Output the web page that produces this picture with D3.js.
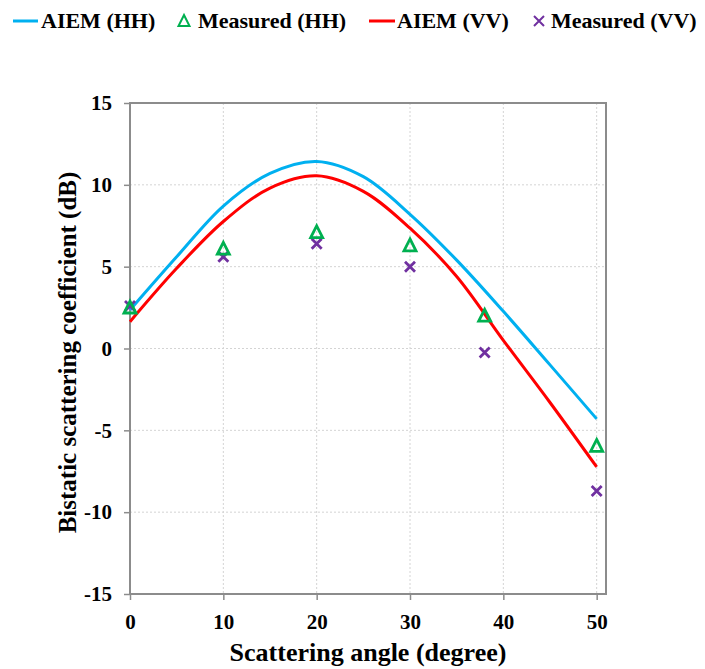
<!DOCTYPE html>
<html>
<head>
<meta charset="utf-8">
<script src="https://cdn.jsdelivr.net/npm/d3@7"></script>
<style>
  body { margin: 0; background: #fff; }
  svg text { font-family: "Liberation Serif", "Times New Roman", "DejaVu Serif", serif !important; font-weight: bold; fill: #000; }
</style>
</head>
<body>
<svg id="chart" width="705" height="669"></svg>
<script>
// ---- data ----
const modelAngles = [0, 5, 10, 15, 20, 25, 30, 35, 40, 45, 50];
const aiemHH = [2.35, 5.6, 8.7, 10.7, 11.43, 10.5, 8.2, 5.4, 2.27, -1.0, -4.3];
const aiemVV = [1.64, 4.9, 7.76, 9.8, 10.55, 9.6, 7.35, 4.4, 0.5, -3.3, -7.24];
const measAngles = [0, 10, 20, 30, 38, 50];
const measHH = [2.5, 6.1, 7.1, 6.3, 2.0, -5.95];
const measVV = [2.6, 5.6, 6.4, 5.0, -0.25, -8.7];
const xTicks = [0, 10, 20, 30, 40, 50];
const yTicks = [-15, -10, -5, 0, 5, 10, 15];
const xTitle = "Scattering angle (degree)";
const yTitle = "Bistatic scattering coefficient (dB)";
const legendLabels = ["AIEM (HH)", "Measured (HH)", "AIEM (VV)", "Measured (VV)"];

// ---- layout ----
const FONT = '"Liberation Serif", "Times New Roman", serif';
const svg = d3.select("#chart");
const L = 130, R = 606, T = 103, B = 594;
const colors = { hh: "#00B0F0", vv: "#FF0000", mhh: "#00B050", mvv: "#7030A0" };

const x = d3.scaleLinear().domain([0, 51]).range([L, R]);
const y = d3.scaleLinear().domain([-15, 15]).range([B, T]);
const fmt = d => String(d); // plain hyphen minus like the reference

// gridlines
const grid = svg.append("g");
grid.selectAll("line.h").data(yTicks.filter(v => v > -15 && v < 15)).enter().append("line")
  .attr("x1", L).attr("x2", R).attr("y1", d => y(d)).attr("y2", d => y(d))
  .attr("stroke", "#d4d4d4").attr("stroke-width", 1).attr("stroke-dasharray", "2,2");
grid.selectAll("line.v").data(xTicks.filter(v => v > 0)).enter().append("line")
  .attr("y1", T).attr("y2", B).attr("x1", d => x(d)).attr("x2", d => x(d))
  .attr("stroke", "#d4d4d4").attr("stroke-width", 1).attr("stroke-dasharray", "2,2");

// border box
svg.append("rect").attr("x", L).attr("y", T).attr("width", R - L).attr("height", B - T)
  .attr("fill", "none").attr("stroke", "#8c8c8c").attr("stroke-width", 2);

// axes
const xAxis = svg.append("g").attr("transform", `translate(0,${B})`)
  .call(d3.axisBottom(x).tickValues(xTicks).tickSize(6).tickPadding(14).tickFormat(fmt));
xAxis.attr("font-family", FONT).attr("font-size", 21);
xAxis.select(".domain").remove();
xAxis.selectAll(".tick line").attr("stroke", "#8c8c8c").attr("stroke-width", 1.5);
xAxis.selectAll(".tick text").style("font-size", "21px").style("font-family", FONT);

const yAxis = svg.append("g").attr("transform", `translate(${L},0)`)
  .call(d3.axisLeft(y).tickValues(yTicks).tickSize(6).tickPadding(12).tickFormat(fmt));
yAxis.attr("font-family", FONT).attr("font-size", 21);
yAxis.select(".domain").remove();
yAxis.selectAll(".tick line").attr("stroke", "#8c8c8c").attr("stroke-width", 1.5);
yAxis.selectAll(".tick text").style("font-size", "21px").style("font-family", FONT);

// curves
const line = d3.line().curve(d3.curveCatmullRom.alpha(0.5));
svg.append("path").attr("d", line(modelAngles.map((a, i) => [x(a), y(aiemHH[i])])))
  .attr("fill", "none").attr("stroke", colors.hh).attr("stroke-width", 3);
svg.append("path").attr("d", line(modelAngles.map((a, i) => [x(a), y(aiemVV[i])])))
  .attr("fill", "none").attr("stroke", colors.vv).attr("stroke-width", 3);

// markers
function triPath(s) { const h = s * 0.9; return `M0,${-h/2 - 1}L${s/2},${h/2}L${-s/2},${h/2}Z`; }
function xPath(s) { const r = s / 2; return `M${-r},${-r}L${r},${r}M${-r},${r}L${r},${-r}`; }

svg.append("g").selectAll("path").data(measAngles).enter().append("path")
  .attr("transform", (a, i) => `translate(${x(a)},${y(measVV[i])})`)
  .attr("d", xPath(10)).attr("fill", "none").attr("stroke", colors.mvv).attr("stroke-width", 2.8);
svg.append("g").selectAll("path").data(measAngles).enter().append("path")
  .attr("transform", (a, i) => `translate(${x(a)},${y(measHH[i])})`)
  .attr("d", triPath(12)).attr("fill", "none").attr("stroke", colors.mhh).attr("stroke-width", 2.8)
  .attr("stroke-linejoin", "miter");

// axis titles
svg.append("text").attr("x", (L + R) / 2).attr("y", 661).attr("text-anchor", "middle")
  .style("font-family", FONT).style("font-size", "26px").text(xTitle);
svg.append("text").attr("transform", `translate(76,${(T + B) / 2 + 4}) rotate(-90)`).attr("text-anchor", "middle")
  .style("font-family", FONT).style("font-size", "25px").text(yTitle);

// legend
const lg = svg.append("g");
const ly = 21, lb = 28;
lg.append("line").attr("x1", 13).attr("x2", 38).attr("y1", ly).attr("y2", ly).attr("stroke", colors.hh).attr("stroke-width", 3);
lg.append("text").attr("x", 41).attr("y", lb).style("font-family", FONT).style("font-size", "22px").text(legendLabels[0]);
lg.append("path").attr("transform", `translate(184,${ly})`).attr("d", triPath(11))
  .attr("fill", "none").attr("stroke", colors.mhh).attr("stroke-width", 2);
lg.append("text").attr("x", 198).attr("y", lb).style("font-family", FONT).style("font-size", "22px").text(legendLabels[1]);
lg.append("line").attr("x1", 369).attr("x2", 395).attr("y1", ly).attr("y2", ly).attr("stroke", colors.vv).attr("stroke-width", 3);
lg.append("text").attr("x", 397).attr("y", lb).style("font-family", FONT).style("font-size", "22px").text(legendLabels[2]);
lg.append("path").attr("transform", `translate(539,${ly})`).attr("d", xPath(10))
  .attr("fill", "none").attr("stroke", colors.mvv).attr("stroke-width", 2);
lg.append("text").attr("x", 551).attr("y", lb).style("font-family", FONT).style("font-size", "22px").text(legendLabels[3]);
</script>
</body>
</html>
